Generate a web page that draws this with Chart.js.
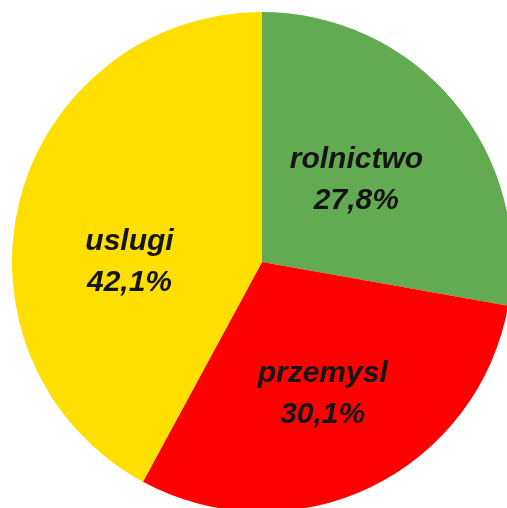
<!DOCTYPE html>
<html>
<head>
<meta charset="utf-8">
<script src="https://cdn.jsdelivr.net/npm/chart.js@4"></script>
<style>
  html, body { margin: 0; padding: 0; background: #fff; overflow: hidden; }
  #wrap { position: absolute; left: 0; top: 0; width: 524px; height: 524px; }
</style>
</head>
<body>
<div id="wrap"><canvas id="struktura"></canvas></div>
<script>
const sektory = ["rolnictwo", "przemysl", "uslugi"];
const udzialy = [27.8, 30.1, 42.1];
const kolory = ["#63ab52", "#ff0000", "#ffdf00"];

// podpisy: nazwa sektora + procent, wewnątrz wycinka
const podpisy = {
  id: "podpisy",
  afterDatasetsDraw(chart, args, opts) {
    const ctx = chart.ctx;
    const arcs = chart.getDatasetMeta(0).data;
    ctx.save();
    ctx.font = "italic bold 30px 'Liberation Sans', Arial, sans-serif";
    ctx.fillStyle = "#151515";
    ctx.textAlign = "center";
    ctx.textBaseline = "middle";
    arcs.forEach((arc, i) => {
      const p = arc.getProps(["x", "y", "startAngle", "endAngle", "outerRadius"], true);
      const kat = (p.startAngle + p.endAngle) / 2 + opts.przesuniecie[i] * Math.PI / 180;
      const r = p.outerRadius * opts.promien[i];
      const x = p.x + Math.cos(kat) * r;
      const y = p.y + Math.sin(kat) * r;
      const proc = udzialy[i].toFixed(1).replace(".", ",") + "%";
      ctx.fillText(sektory[i], x, y - 20);
      ctx.fillText(proc, x, y + 21);
    });
    ctx.restore();
  }
};

new Chart(document.getElementById("struktura"), {
  type: "pie",
  data: {
    labels: sektory,
    datasets: [{ data: udzialy, backgroundColor: kolory, borderWidth: 0 }],
  },
  options: {
    responsive: true,
    maintainAspectRatio: false,
    animation: false,
    layout: { padding: 12 },
    plugins: {
      legend: { display: false },
      tooltip: { enabled: false },
      podpisy: { przesuniecie: [-1, 1, -14], promien: [0.5, 0.58, 0.53] },
    },
  },
  plugins: [podpisy],
});
</script>
</body>
</html>
